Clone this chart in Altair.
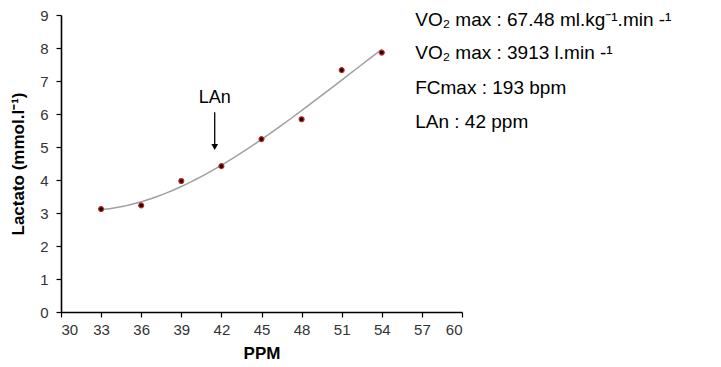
import altair as alt
import pandas as pd

ppm = [33, 36, 39, 42, 45, 48, 51, 54]
lactato = [3.12, 3.23, 3.97, 4.42, 5.24, 5.84, 7.33, 7.86]

x_ticks = list(range(30, 61, 3))
y_ticks = list(range(0, 10))

info_lines = [
    "VO\u2082 max : 67.48 ml.kg\u207b\u00b9.min -\u00b9",
    "VO\u2082 max : 3913 l.min -\u00b9",
    "FCmax : 193 bpm",
    "LAn : 42 ppm",
]
info_x = [56.5, 56.5, 56.5, 56.5]
info_y = [8.85, 7.85, 6.8, 5.75]

arrow_x = 41.5
arrow_top = 6.05
arrow_bottom = 5.0
lan_label_y = 6.5

df = pd.DataFrame({"ppm": ppm, "lactato": lactato})
info_df = pd.DataFrame({"x": info_x, "y": info_y, "t": info_lines})
arrow_df = pd.DataFrame({"x": [arrow_x], "y": [arrow_top], "y2": [arrow_bottom], "ly": [lan_label_y], "t": ["LAn"]})

FONT = "Liberation Sans"

xscale = alt.Scale(domain=[30, 60], nice=False, zero=False)
yscale = alt.Scale(domain=[0, 9], nice=False)

xaxis = alt.Axis(values=x_ticks, title="PPM", grid=False, domainColor="black", domainWidth=1.6,
                 tickColor="black", tickSize=5, tickWidth=1.2, labelFontSize=15, labelColor="#333333", labelFont=FONT,
                 titleFont=FONT, titleFontSize=17, titleFontWeight="bold", titleColor="black",
                 titlePadding=8, labelPadding=5, labelOverlap=False)
yaxis = alt.Axis(values=y_ticks, title="Lactato (mmol.l\u207b\u00b9)", grid=False, domainColor="black", domainWidth=1.6,
                 tickColor="black", tickSize=5, tickWidth=1.2, labelFontSize=15, labelColor="#333333", labelFont=FONT,
                 titleFont=FONT, titleFontSize=17, titleFontWeight="bold", titleColor="black",
                 titlePadding=12, labelPadding=8, labelOverlap=False)


def X(field):
    return alt.X(field, scale=xscale, axis=xaxis, title="PPM")


def Y(field):
    return alt.Y(field, scale=yscale, axis=yaxis, title="Lactato (mmol.l\u207b\u00b9)")


trend = alt.Chart(df).transform_regression("ppm", "lactato", method="poly", order=3, extent=[33, 54]).mark_line(
    color="#a0a0a0", strokeWidth=1.5
).encode(x=X("ppm:Q"), y=Y("lactato:Q"))

points = alt.Chart(df).mark_point(filled=True, fill="black", stroke="#cc2222", strokeWidth=1.2, size=24, opacity=1).encode(
    x=X("ppm:Q"), y=Y("lactato:Q")
)

arrow_line = alt.Chart(arrow_df).mark_rule(color="black", strokeWidth=1.3).encode(
    x=X("x:Q"), y=Y("y:Q"), y2="y2:Q"
)
arrow_head = alt.Chart(arrow_df).mark_point(shape="triangle-down", filled=True, color="black", size=45, opacity=1).encode(
    x=X("x:Q"), y=Y("y2:Q")
)
arrow_text = alt.Chart(arrow_df).mark_text(font=FONT, fontSize=18, color="black", baseline="middle").encode(
    x=X("x:Q"), y=Y("ly:Q"), text="t:N"
)

info = alt.Chart(info_df).mark_text(font=FONT, fontSize=19, color="black", align="left", baseline="middle", clip=False).encode(
    x=X("x:Q"), y=Y("y:Q"), text="t:N"
)

chart = alt.layer(trend, points, arrow_line, arrow_head, arrow_text, info).properties(
    width=401, height=297,
    autosize=alt.AutoSizeParams(type="none"),
    padding={"left": 61, "top": 15, "right": 259, "bottom": 55},
    background="white",
).configure_view(stroke=None)

chart.save("out.html", embed_options={"renderer": "svg", "actions": False})
